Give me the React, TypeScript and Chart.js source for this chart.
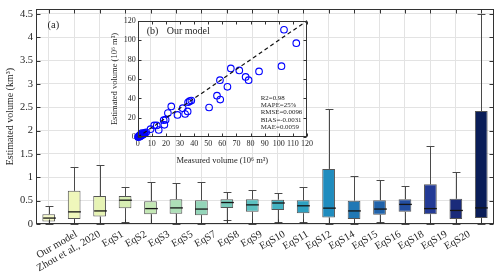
import React, { useEffect, useRef } from 'react';
import { Chart, registerables } from 'chart.js';

Chart.register(...registerables);

const categories = [
  'Our model', 'Zhou et al., 2020', 'EqS1', 'EqS2', 'EqS3', 'EqS5', 'EqS7', 'EqS8', 'EqS9',
  'EqS10', 'EqS11', 'EqS12', 'EqS14', 'EqS15', 'EqS16', 'EqS18', 'EqS19', 'EqS20',
];
const whiskerLow = [0.01, 0.01, 0.01, 0.04, 0.03, 0.01, 0.01, 0.085, 0.01, 0.05, 0.04, 0.01, 0.01, 0.04, 0.01, 0.01, 0.01, 0.01];
const q1 = [0.055, 0.105, 0.16, 0.34, 0.21, 0.22, 0.19, 0.345, 0.26, 0.3, 0.23, 0.14, 0.105, 0.2, 0.26, 0.21, 0.105, 0.13];
const median = [0.127, 0.26, 0.28, 0.51, 0.33, 0.345, 0.32, 0.46, 0.41, 0.45, 0.39, 0.34, 0.28, 0.32, 0.42, 0.33, 0.29, 0.345];
const q3 = [0.21, 0.71, 0.6, 0.6, 0.49, 0.53, 0.51, 0.53, 0.53, 0.52, 0.51, 1.18, 0.5, 0.51, 0.53, 0.85, 0.54, 2.42];
const whiskerHigh = [0.38, 1.225, 1.26, 0.79, 0.89, 0.88, 0.9, 0.68, 0.73, 0.67, 0.8, 2.46, 1.03, 0.95, 0.82, 1.68, 1.11, 4.5];
const boxColors = [
  '#f5f9c8', '#eff7bb', '#e6f3b4', '#d7eeb3', '#c4e8b5', '#addfb7', '#94d5b9', '#78cbbb',
  '#5cc0c0', '#43b3c2', '#2fa1c1', '#1f8cbe', '#2078b5', '#2163aa', '#234ea0', '#233a95',
  '#1a2b7a', '#0a1d58',
];
const yTickValues = [0, 0.5, 1, 1.5, 2, 2.5, 3, 3.5, 4, 4.5];

const measured = [
  103.7, 112.4, 101.9, 86, 78.6, 76.5, 72, 66, 58.3, 63.6, 56.2, 58.5, 50.6, 36.8, 35.7, 38,
  35.4, 33.6, 31.9, 28.2, 23.8, 21.4, 19.8, 18.4, 18.9, 14.9, 13.5, 11.7, 9.1, 6, 5.1, 4.4,
  4.0, 3.2, 2.8, 2.2, 1.6, 1.2, 0.9, 0.5, 0.3, 3.6, 2.5, 1.9, 1.4, 0.7, 4.8, 3.0,
];
const estimated = [
  110.8, 97, 73.3, 67.9, 58.8, 62.2, 68.9, 70.9, 58.8, 52, 42.9, 38.9, 30.7, 37.2, 36.1, 37.8,
  26.7, 24, 30, 23, 31.8, 25, 18.2, 17.6, 12.8, 7.5, 12.2, 12.2, 8.4, 5.2, 4.7, 4.1,
  3.4, 3.0, 2.4, 2.0, 1.7, 0.9, 1.0, 0.4, 0.2, 2.6, 1.5, 2.7, 0.6, 1.3, 3.6, 4.2,
];
const identityLine = [0, 120];
const insetTitle = ['(b)', 'Our model'];
const insetStats = ['R2=0.98', 'MAPE=25%', 'RMSE=0.0096', 'BIAS=-0.0031', 'MAE=0.0059'];

const SERIF = "'Liberation Serif', 'Times New Roman', serif";
const TXT = '#262626';

export default function App() {
  const mainRef = useRef<HTMLCanvasElement>(null);
  const insetRef = useRef<HTMLCanvasElement>(null);

  useEffect(() => {
    document.body.style.margin = '0';

    const boxPlugin = {
      id: 'boxWhiskers',
      afterDatasetsDraw(chart: any) {
        const ctx = chart.ctx;
        const xs = chart.scales.x;
        const ys = chart.scales.y;
        const meta = chart.getDatasetMeta(0);
        ctx.save();
        categories.forEach((_, i) => {
          const el = meta.data[i];
          const cx = Math.round(xs.getPixelForValue(i)) + 0.5;
          const w = el.width;
          const capW = w * 0.62;
          const yHi = Math.round(ys.getPixelForValue(whiskerHigh[i])) + 0.5;
          const yLo = Math.round(ys.getPixelForValue(whiskerLow[i])) + 0.5;
          const yQ3 = ys.getPixelForValue(q3[i]);
          const yQ1 = ys.getPixelForValue(q1[i]);
          ctx.strokeStyle = '#4a4a4a';
          ctx.lineWidth = 1;
          ctx.beginPath();
          ctx.moveTo(cx, yQ3);
          ctx.lineTo(cx, yHi);
          ctx.moveTo(cx - capW / 2, yHi);
          ctx.lineTo(cx + capW / 2, yHi);
          ctx.moveTo(cx, yQ1);
          ctx.lineTo(cx, yLo);
          ctx.moveTo(cx - capW / 2, yLo);
          ctx.lineTo(cx + capW / 2, yLo);
          ctx.stroke();
          const yMed = ys.getPixelForValue(median[i]);
          ctx.strokeStyle = '#151515';
          ctx.lineWidth = 1.3;
          ctx.beginPath();
          ctx.moveTo(cx - w / 2, yMed);
          ctx.lineTo(cx + w / 2, yMed);
          ctx.stroke();
        });
        ctx.restore();
      },
    };

    const mainDecor = {
      id: 'mainDecor',
      afterDraw(chart: any) {
        const ctx = chart.ctx;
        const a = chart.chartArea;
        const ys = chart.scales.y;
        const xs = chart.scales.x;
        ctx.save();
        ctx.strokeStyle = '#333';
        ctx.lineWidth = 1;
        const l = Math.round(a.left) + 0.5, r = Math.round(a.right) - 0.5;
        const t = Math.round(a.top) + 0.5, b = Math.round(a.bottom) - 0.5;
        ctx.strokeRect(l, t, r - l, b - t);
        ctx.beginPath();
        ys.ticks.forEach((tk: any) => {
          const py = Math.round(ys.getPixelForValue(tk.value)) + 0.5;
          ctx.moveTo(l, py);
          ctx.lineTo(l + 4, py);
          ctx.moveTo(r, py);
          ctx.lineTo(r - 4, py);
        });
        categories.forEach((_, i) => {
          const px = Math.round(xs.getPixelForValue(i)) + 0.5;
          ctx.moveTo(px, b);
          ctx.lineTo(px, b - 4);
          ctx.moveTo(px, t);
          ctx.lineTo(px, t + 4);
        });
        ctx.stroke();
        ctx.fillStyle = TXT;
        ctx.font = `10.5px ${SERIF}`;
        ctx.textBaseline = 'middle';
        ctx.textAlign = 'left';
        ctx.fillText('(a)', a.left + 11.5, a.top + 16);
        ctx.restore();
      },
    };

    const main = new Chart(mainRef.current as HTMLCanvasElement, {
      type: 'bar',
      data: {
        labels: categories,
        datasets: [
          {
            data: categories.map((_, i) => [q1[i], q3[i]]),
            backgroundColor: boxColors,
            borderColor: '#555',
            borderWidth: 1,
            borderSkipped: false,
            barPercentage: 0.5,
            categoryPercentage: 1,
          } as any,
        ],
      },
      options: {
        responsive: false,
        animation: false,
        layout: { padding: { left: 0, top: 6, right: 6, bottom: 0 } },
        plugins: { legend: { display: false }, tooltip: { enabled: false } },
        scales: {
          x: {
            type: 'category',
            offset: true,
            weight: 0,
            grid: { display: true, offset: false, color: '#e3e3e3', drawTicks: false },
            border: { display: false },
            ticks: { display: false, autoSkip: false },
            afterFit: (s: any) => { s.height = 0; },
          },
          xLabels: {
            type: 'linear',
            position: 'bottom',
            weight: 1,
            min: -1.2,
            max: 17.51,
            grid: { display: false, drawTicks: false },
            border: { display: false },
            afterBuildTicks: (s: any) => {
              s.ticks = categories.map((_, i) => ({ value: i }));
            },
            ticks: {
              autoSkip: false,
              minRotation: 30,
              maxRotation: 30,
              padding: 4,
              color: TXT,
              font: { family: SERIF, size: 10.5 },
              callback: (v: any) => categories[Math.round(Number(v))],
            },
            afterFit: (s: any) => { s.height = 52; },
          } as any,
          y: {
            type: 'linear',
            min: 0,
            max: 4.6,
            grid: { color: '#e3e3e3', drawTicks: false },
            border: { display: false },
            afterBuildTicks: (s: any) => {
              s.ticks = yTickValues.map((v) => ({ value: v }));
            },
            ticks: {
              padding: 3,
              color: TXT,
              font: { family: SERIF, size: 10.5 },
              callback: (v: any) => String(Number(v)),
            },
            title: {
              display: true,
              text: 'Estimated volume (km³)',
              color: TXT,
              font: { family: SERIF, size: 10 },
              padding: { top: 4, bottom: 0 },
            },
            afterFit: (s: any) => { s.width = 36; },
          },
        },
      },
      plugins: [boxPlugin, mainDecor],
    });

    const insetDecor = {
      id: 'insetDecor',
      afterDraw(chart: any) {
        const ctx = chart.ctx;
        const a = chart.chartArea;
        const xs = chart.scales.x;
        const ys = chart.scales.y;
        ctx.save();
        ctx.strokeStyle = '#333';
        ctx.lineWidth = 1;
        const l = Math.round(a.left) + 0.5, r = Math.round(a.right) - 0.5;
        const t = Math.round(a.top) + 0.5, b = Math.round(a.bottom) - 0.5;
        ctx.strokeRect(l, t, r - l, b - t);
        ctx.beginPath();
        xs.ticks.forEach((tk: any) => {
          const px = Math.round(xs.getPixelForValue(tk.value)) + 0.5;
          ctx.moveTo(px, b);
          ctx.lineTo(px, b - 3);
          ctx.moveTo(px, t);
          ctx.lineTo(px, t + 3);
        });
        ys.ticks.forEach((tk: any) => {
          const py = Math.round(ys.getPixelForValue(tk.value)) + 0.5;
          ctx.moveTo(l, py);
          ctx.lineTo(l + 3, py);
          ctx.moveTo(r, py);
          ctx.lineTo(r - 3, py);
        });
        ctx.stroke();
        ctx.fillStyle = TXT;
        ctx.textBaseline = 'middle';
        ctx.textAlign = 'left';
        ctx.font = `10px ${SERIF}`;
        ctx.fillText(insetTitle[0], a.left + 9, a.top + 11);
        ctx.fillText(insetTitle[1], a.left + 29, a.top + 11);
        ctx.font = `6.9px ${SERIF}`;
        insetStats.forEach((s, i) => {
          ctx.fillText(s, a.left + 123, a.top + 77 + i * 7.3);
        });
        ctx.restore();
      },
    };

    const inset = new Chart(insetRef.current as HTMLCanvasElement, {
      type: 'scatter',
      data: {
        datasets: [
          {
            type: 'line',
            data: identityLine.map((v) => ({ x: v, y: v })),
            borderColor: '#111',
            borderWidth: 1.2,
            borderDash: [4, 3],
            pointRadius: 0,
            fill: false,
          } as any,
          {
            type: 'scatter',
            data: measured.map((m, i) => ({ x: m, y: estimated[i] })),
            borderColor: '#0000ff',
            backgroundColor: 'rgba(0,0,0,0)',
            pointRadius: 3.3,
            pointBorderWidth: 1.1,
          },
        ],
      },
      options: {
        responsive: false,
        animation: false,
        clip: false as any,
        layout: { padding: { left: 0, top: 5, right: 5.7, bottom: 0 } },
        plugins: { legend: { display: false }, tooltip: { enabled: false } },
        scales: {
          x: {
            type: 'linear',
            min: 0,
            max: 120,
            grid: { display: false, drawTicks: false },
            border: { display: false },
            ticks: {
              stepSize: 10,
              padding: 2,
              autoSkip: false,
              minRotation: 0,
              maxRotation: 0,
              color: TXT,
              font: { family: SERIF, size: 8 },
            },
            title: {
              display: true,
              text: 'Measured volume (10⁶ m³)',
              color: TXT,
              font: { family: SERIF, size: 8.5 },
              padding: { top: 0, bottom: 2.3 },
            },
            afterFit: (s: any) => { s.height = 30.7; },
          },
          y: {
            type: 'linear',
            min: 0,
            max: 120,
            grid: { display: false, drawTicks: false },
            border: { display: false },
            ticks: { stepSize: 20, padding: 2, color: TXT, font: { family: SERIF, size: 8 } },
            title: {
              display: true,
              text: 'Estimated volume (10⁶ m³)',
              color: TXT,
              font: { family: SERIF, size: 8.5 },
              padding: { top: 4.9, bottom: 0 },
            },
            afterFit: (s: any) => { s.width = 32.7; },
          },
        },
      },
      plugins: [insetDecor],
    });

    return () => {
      main.destroy();
      inset.destroy();
    };
  }, []);

  return (
    <div style={{ position: 'absolute', left: 0, top: 0, width: 500, height: 276, background: '#fff' }}>
      <canvas ref={mainRef} width={500} height={276} style={{ position: 'absolute', left: 0, top: 0 }} />
      <canvas ref={insetRef} width={210} height={154} style={{ position: 'absolute', left: 105, top: 14 }} />
    </div>
  );
}
